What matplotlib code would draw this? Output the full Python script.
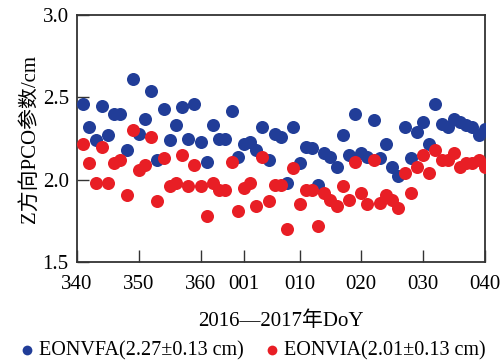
import matplotlib
matplotlib.use("Agg")
import matplotlib.pyplot as plt

# day of year, 2016-12-06 (341) .. 2017-02-09 (040)
doy_2016 = list(range(341, 367))
doy_2017 = list(range(1, 41))

# EONVFA
eonvfa = [2.46, 2.32, 2.24, 2.45, 2.27, 2.40, 2.40, 2.18, 2.61, 2.28, 2.37,
          2.54, 2.12, 2.43, 2.24, 2.33, 2.44, 2.25, 2.46, 2.23, 2.11, 2.33,
          2.25, 2.25, 2.42, 2.14, 2.22, 2.23, 2.18, 2.32, 2.12, 2.28, 2.26,
          1.98, 2.32, 2.10, 2.20, 2.19, 1.97, 2.16, 2.14, 2.08, 2.27, 2.15, 2.40,
          2.16, 2.14, 2.36, 2.13, 2.22, 2.08, 2.02, 2.32, 2.13, 2.29, 2.35,
          2.22, 2.46, 2.34, 2.32, 2.37, 2.35, 2.33, 2.32, 2.27, 2.31]
# EONVIA
eonvia = [2.22, 2.10, 1.98, 2.20, 1.98, 2.10, 2.12, 1.91, 2.30, 2.06, 2.09,
          2.26, 1.87, 2.13, 1.96, 1.98, 2.15, 1.96, 2.09, 1.96, 1.78, 1.98,
          1.94, 1.94, 2.11, 1.81, 1.95, 1.98, 1.84, 2.14, 1.87, 1.97, 1.97,
          1.70, 2.07, 1.85, 1.94, 1.94, 1.72, 1.92, 1.88, 1.84, 1.96, 1.88, 2.11,
          1.92, 1.85, 2.12, 1.86, 1.91, 1.88, 1.83, 2.04, 1.92, 2.08, 2.15,
          2.04, 2.18, 2.12, 2.12, 2.16, 2.08, 2.10, 2.10, 2.12, 2.08]

tick_days = [340, 350, 360, 1, 10, 20, 30, 40]
tick_labels = ["340", "350", "360", "001", "010", "020", "030", "040"]


def day_index(d):
    # continuous axis: 2016 is a leap year (366 days)
    return d - 340 if d >= 300 else d + 366 - 340


def main():
    fonts = ["Liberation Serif", "Noto Sans CJK SC"]
    plt.rcParams["font.family"] = fonts
    plt.rcParams["font.size"] = 15

    fig = plt.figure(figsize=(5.04, 3.6), dpi=100)
    ax = fig.add_axes([0.153, 0.272, 0.809, 0.686])

    x = [day_index(d) for d in doy_2016 + doy_2017]
    ax.scatter(x, eonvfa, s=88, color="#213d98", linewidths=0,
               label="EONVFA(2.27\u00b10.13 cm)", zorder=3)
    ax.scatter(x, eonvia, s=88, color="#e81e25", linewidths=0,
               label="EONVIA(2.01\u00b10.13 cm)", zorder=3)

    ax.set_xlim(0, 66)
    ax.set_ylim(1.5, 3.0)
    ax.set_xticks([day_index(d) for d in tick_days])
    ax.set_xticklabels(tick_labels)
    ax.set_yticks([1.5, 2.0, 2.5, 3.0])
    ax.set_yticklabels(["1.5", "2.0", "2.5", "3.0"])
    ax.tick_params(direction="in", length=8.5, width=1.0, color="#333333",
                   top=False, right=False)
    ax.tick_params(axis="x", pad=9)
    ax.tick_params(axis="y", pad=6)
    for sp in ax.spines.values():
        sp.set_color("#333333")
        sp.set_linewidth(1.3)

    ax.set_xlabel("2016\u20142017年DoY", labelpad=13)
    ax.set_ylabel("Z方向PCO参数/cm", labelpad=2)

    fig.legend(loc="lower center", bbox_to_anchor=(0.5, -0.04), ncol=2,
               frameon=False, markerscale=0.75, handlelength=0.8,
               handletextpad=0.2, columnspacing=1.0, borderpad=0.2,
               fontsize=14.5)

    fig.savefig("out.png", dpi=100)


if __name__ == '__main__':
    main()
